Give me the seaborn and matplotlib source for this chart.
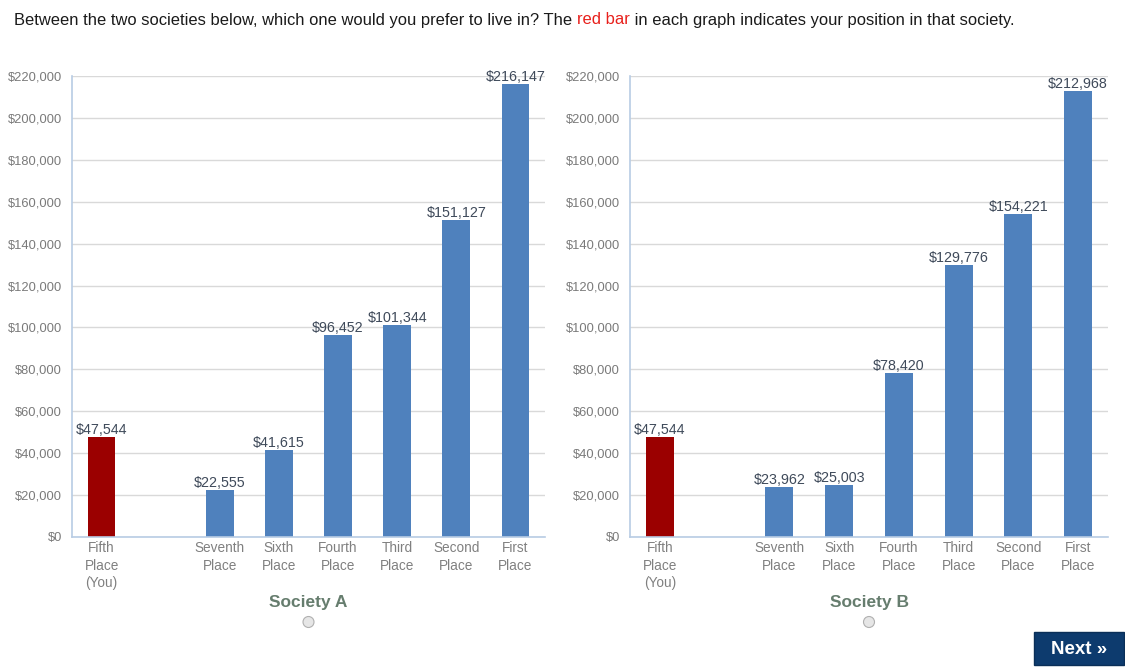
import numpy as np
import pandas as pd
import matplotlib
matplotlib.use("Agg")
import matplotlib.pyplot as plt
from matplotlib.patches import Circle, FancyBboxPatch
import seaborn as sns

# ---- data ----
categories = ["Fifth\nPlace\n(You)", " ", "Seventh\nPlace", "Sixth\nPlace",
              "Fourth\nPlace", "Third\nPlace", "Second\nPlace", "First\nPlace"]
bar_categories = ["Fifth\nPlace\n(You)", "Seventh\nPlace", "Sixth\nPlace",
                  "Fourth\nPlace", "Third\nPlace", "Second\nPlace", "First\nPlace"]
society_a = [47544, 22555, 41615, 96452, 101344, 151127, 216147]
society_b = [47544, 23962, 25003, 78420, 129776, 154221, 212968]
society_names = ["Society A", "Society B"]
y_ticks = list(range(0, 220001, 20000))

RED = "#9b0000"
BLUE = "#4f81bd"
palette = {c: (RED if i == 0 else BLUE) for i, c in enumerate(bar_categories)}

sns.set_theme(style="white")
plt.rcParams['font.family'] = ['Liberation Sans', 'DejaVu Sans']

fig = plt.figure(figsize=(11.25, 6.68), dpi=100)
fig.patch.set_facecolor("white")

axes_rects = [[72/1125, 131/668, 473/1125, 461/668],
              [630/1125, 131/668, 478/1125, 461/668]]

for rect, vals, name in zip(axes_rects, [society_a, society_b], society_names):
    ax = fig.add_axes(rect)
    df = pd.DataFrame({"place": bar_categories, "income": vals})
    sns.barplot(data=df, x="place", y="income", hue="place", order=categories,
                palette=palette, width=0.47, legend=False, ax=ax,
                saturation=1, linewidth=0)
    ax.set_ylim(0, 220000)
    ax.set_xlim(-0.5, len(categories) - 0.5)
    ax.set_yticks(y_ticks)
    ax.set_yticklabels([f"${v:,}" for v in y_ticks], fontsize=9.3, color="#7a7a7a")
    ax.set_xticks(range(len(categories)))
    ax.set_xticklabels(categories, fontsize=9.8, color="#808080", linespacing=1.32)
    ax.set_xticks(np.arange(-0.5, len(categories) + 0.5, 1.0), minor=True)
    ax.tick_params(axis="x", which="major", length=0, pad=3)
    ax.tick_params(axis="x", which="minor", length=4, color="#b8cce4", width=1, direction="out")
    ax.tick_params(axis="y", length=0, pad=7)
    ax.grid(axis="y", color="#d9d9d9", linewidth=1)
    ax.set_axisbelow(True)
    for s in ["top", "right"]:
        ax.spines[s].set_visible(False)
    ax.spines["left"].set_color("#b8cce4")
    ax.spines["bottom"].set_color("#b8cce4")
    ax.spines["left"].set_linewidth(1.2)
    ax.spines["bottom"].set_linewidth(1.2)
    ax.set_xlabel("")
    ax.set_ylabel("")
    for c in ax.containers:
        ax.bar_label(c, labels=[f"${v:,.0f}" for v in c.datavalues],
                     fontsize=10.3, color="#3f4a5a", padding=0)
    # society name and radio button
    cx = rect[0] + rect[2] / 2
    fig.text(cx, 1 - 603/668, name, ha="center", va="center", fontsize=12.5,
             fontweight="bold", color="#667d6e")
    fig.patches.append(Circle((cx * 1125, 668 - 622), 5.5, transform=None,
                              facecolor="#e6e6e6", edgecolor="#b0b0b0", lw=0.8))

# ---- question text with red part ----
fig.canvas.draw()
renderer = fig.canvas.get_renderer()
parts = [("Between the two societies below, which one would you prefer to live in? The ", "#1a1a1a"),
         ("red bar", "#e8201c"),
         (" in each graph indicates your position in that society.", "#1a1a1a")]
x = 14
for txt, col in parts:
    t = fig.text(x / 1125, 1 - 20/668, txt, ha="left", va="center",
                 fontsize=11.9, color=col)
    bb = t.get_window_extent(renderer)
    x += bb.width

# ---- Next button ----
fig.patches.append(FancyBboxPatch((1034, 668 - 665), 90, 33, boxstyle="square,pad=0",
                                  transform=None, facecolor="#0d3b6e", edgecolor="#0a2f58"))
fig.text(1079 / 1125, 1 - 649/668, "Next »", ha="center", va="center",
         fontsize=13.5, fontweight="bold", color="white")

fig.savefig("out.png", dpi=100, facecolor="white")
